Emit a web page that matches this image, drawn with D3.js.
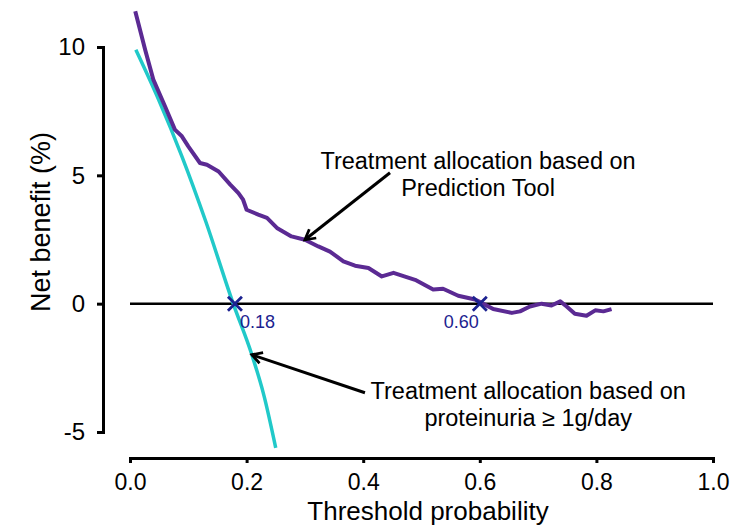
<!DOCTYPE html>
<html>
<head>
<meta charset="utf-8">
<script src="https://cdn.jsdelivr.net/npm/d3@7"></script>
<style>
  body { margin: 0; background: #fff; }
  svg text { font-family: "Liberation Sans", Arial, sans-serif; }
</style>
</head>
<body>
<div id="chart-area"></div>
<script>
// threshold probability / net benefit (%)
var modelPt = [0.009, 0.026, 0.040, 0.060, 0.077, 0.089, 0.100, 0.120, 0.132, 0.152, 0.172, 0.186, 0.194,
  0.200, 0.220, 0.235, 0.252, 0.277, 0.300, 0.323, 0.343, 0.366, 0.386, 0.409, 0.432, 0.452, 0.489,
  0.520, 0.537, 0.563, 0.592, 0.603, 0.623, 0.655, 0.669, 0.686, 0.706, 0.723, 0.738, 0.749, 0.763,
  0.783, 0.798, 0.812, 0.826];
var modelNb = [11.39, 9.89, 8.73, 7.69, 6.78, 6.52, 6.13, 5.48, 5.41, 5.15, 4.64, 4.31, 4.05,
  3.66, 3.47, 3.34, 2.95, 2.62, 2.49, 2.23, 2.03, 1.65, 1.48, 1.39, 1.06, 1.20, 0.93,
  0.55, 0.58, 0.31, 0.16, 0.03, -0.21, -0.36, -0.30, -0.11, 0.00, -0.07, 0.09, -0.11, -0.39,
  -0.47, -0.26, -0.30, -0.21];

var protPt = [0.010, 0.049, 0.089, 0.130, 0.177, 0.209, 0.230, 0.250];
var protNb = [9.89, 7.95, 5.74, 3.20, 0.00, -1.99, -3.60, -5.62];

var crossPt = [0.18, 0.60];
var crossLabels = ["0.18", "0.60"];

var xTicks = [0, 0.2, 0.4, 0.6, 0.8, 1.0];
var yTicks = [-5, 0, 5, 10];

var W = 754, H = 526;

var svg = d3.select("#chart-area")
  .append("svg")
  .attr("width", W)
  .attr("height", H);

var x = d3.scaleLinear().domain([0, 1]).range([130, 713]);
var y = d3.scaleLinear().domain([-5, 10]).range([432, 47]);

// open arrow head
svg.append("defs").append("marker")
  .attr("id", "arrow")
  .attr("viewBox", "0 0 12 12")
  .attr("refX", 10).attr("refY", 6)
  .attr("markerWidth", 5).attr("markerHeight", 5)
  .attr("markerUnits", "strokeWidth")
  .attr("orient", "auto")
  .append("path")
  .attr("d", "M2,1.5 L10,6 L2,10.5")
  .attr("fill", "none")
  .attr("stroke", "#000")
  .attr("stroke-width", 2.2);

// y axis
var yAxis = d3.axisLeft(y).tickValues(yTicks).tickFormat(d => String(d))
  .tickSize(6).tickSizeOuter(0).tickPadding(12);
var gy = svg.append("g")
  .attr("transform", "translate(103,0)")
  .call(yAxis);
gy.select(".domain").attr("stroke-width", 3).attr("stroke-linecap", "square");
gy.selectAll(".tick line").attr("stroke-width", 3);
gy.selectAll(".tick text").attr("font-size", 24).attr("fill", "#000");

// x axis
var xAxis = d3.axisBottom(x).tickValues(xTicks).tickFormat(d3.format(".1f"))
  .tickSize(5).tickSizeOuter(0).tickPadding(11);
var gx = svg.append("g")
  .attr("transform", "translate(0,458)")
  .call(xAxis);
gx.select(".domain").attr("stroke-width", 3).attr("stroke-linecap", "square");
gx.selectAll(".tick line").attr("stroke-width", 3);
gx.selectAll(".tick text").attr("font-size", 23).attr("fill", "#000");

svg.append("text")
  .attr("x", 428).attr("y", 520)
  .attr("text-anchor", "middle")
  .attr("font-size", 26)
  .text("Threshold probability");

svg.append("text")
  .attr("transform", "translate(50,222) rotate(-90)")
  .attr("text-anchor", "middle")
  .attr("font-size", 27)
  .text("Net benefit (%)");

// zero reference
svg.append("line")
  .attr("x1", x(0)).attr("x2", x(1))
  .attr("y1", y(0)).attr("y2", y(0))
  .attr("stroke", "#000").attr("stroke-width", 2.5);

var line = d3.line().x(d => x(d[0])).y(d => y(d[1]));

svg.append("path")
  .datum(protPt.map((p, i) => [p, protNb[i]]))
  .attr("d", line.curve(d3.curveMonotoneX))
  .attr("fill", "none")
  .attr("stroke", "#21c9c9")
  .attr("stroke-width", 3.5);

svg.append("path")
  .datum(modelPt.map((p, i) => [p, modelNb[i]]))
  .attr("d", d3.line().x(d => x(d[0])).y(d => y(d[1])))
  .attr("fill", "none")
  .attr("stroke", "#5b2a93")
  .attr("stroke-width", 4)
  .attr("stroke-linejoin", "round");

// crossing markers
svg.selectAll(".cross")
  .data(crossPt)
  .enter()
  .append("path")
  .attr("class", "cross")
  .attr("transform", d => "translate(" + x(d) + "," + y(0) + ")")
  .attr("d", d3.symbol(d3.symbolTimes, 130))
  .attr("fill", "none")
  .attr("stroke", "#1c2290")
  .attr("stroke-width", 2.8);

svg.selectAll(".cross-label")
  .data(crossPt)
  .enter()
  .append("text")
  .attr("class", "cross-label")
  .attr("x", (d, i) => i == 0 ? x(d) + 5 : x(d) - 1)
  .attr("y", y(0) + 24)
  .attr("text-anchor", (d, i) => i == 0 ? "start" : "end")
  .attr("font-size", 18)
  .attr("fill", "#1c2290")
  .text((d, i) => crossLabels[i]);

// annotations
function annot(lines, cx, cy, from, to) {
  var t = svg.append("text")
    .attr("text-anchor", "middle")
    .attr("font-size", 23.5);
  lines.forEach((l, i) => {
    t.append("tspan").attr("x", x(cx)).attr("y", y(cy) + i * 27).text(l);
  });
  svg.append("line")
    .attr("x1", x(from[0])).attr("y1", y(from[1]))
    .attr("x2", x(to[0])).attr("y2", y(to[1]))
    .attr("stroke", "#000").attr("stroke-width", 3)
    .attr("marker-end", "url(#arrow)");
}

annot(["Treatment allocation based on", "Prediction Tool"], 0.597, 5.25, [0.446, 5.10], [0.300, 2.49]);
annot(["Treatment allocation based on", "proteinuria \u2265 1g/day"], 0.683, -3.7, [0.403, -3.47], [0.209, -1.99]);
</script>
</body>
</html>
